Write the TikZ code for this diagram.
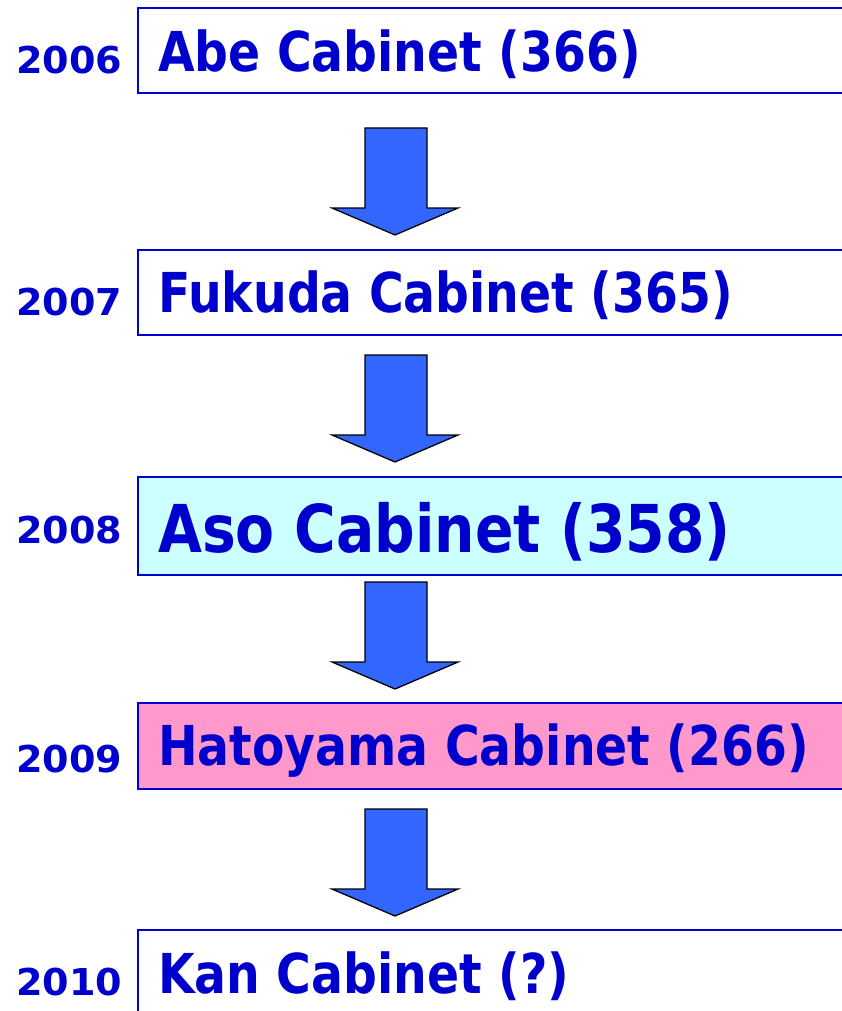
\documentclass[tikz,border=0pt]{standalone}
\usepackage{fontspec}
\setmainfont{DejaVu Sans}
\definecolor{txtblue}{HTML}{0000CC}
\definecolor{arrblue}{HTML}{3366FF}
\definecolor{asofill}{HTML}{CCFFFF}
\definecolor{hatofill}{HTML}{FF99CC}
\begin{document}
\begin{tikzpicture}[x=1pt,y=-1pt,
  cab/.style={draw=txtblue,line width=1.5pt},
  yr/.style={anchor=base west,inner sep=0pt,text=txtblue,font=\fontsize{37}{37}\selectfont\bfseries},
  title/.style={anchor=base west,inner sep=0pt,text=txtblue,font=\fontsize{55}{55}\selectfont\bfseries},
  blk/.style={fill=arrblue,draw=black,line width=1.3pt,line join=miter}]
\useasboundingbox (0,0) rectangle (841,1011);
\path[cab] (138,8) rectangle (860,93);
\path[cab] (138,250) rectangle (860,335);
\path[cab,fill=asofill] (138,477) rectangle (860,575);
\path[cab,fill=hatofill] (138,703) rectangle (860,789);
\path[cab] (138,930) rectangle (860,1030);
\node[yr] (y6) at (16,74) {\scalebox{1.03}[1]{2006}};
\node[yr] (y7) at (16,315) {\scalebox{1.03}[1]{2007}};
\node[yr] (y8) at (16,543) {\scalebox{1.03}[1]{2008}};
\node[yr] (y9) at (16,772) {\scalebox{1.03}[1]{2009}};
\node[yr] (y10) at (16,995) {\scalebox{1.03}[1]{2010}};
\node[title] (abe) at (158,72) {\scalebox{0.86}[1]{Abe Cabinet (366)}};
\node[title] (fuk) at (158,312) {\scalebox{0.86}[1]{Fukuda Cabinet (365)}};
\node[title,font=\fontsize{66}{66}\selectfont\bfseries] (aso) at (158,552) {\scalebox{0.86}[1]{Aso Cabinet (358)}};
\node[title] (hat) at (158,765) {\scalebox{0.86}[1]{Hatoyama Cabinet (266)}};
\node[title] (kan) at (158,993) {\scalebox{0.86}[1]{Kan Cabinet (?)}};
\foreach \t in {128,355,582,809}{
  \draw[blk] (365,\t) -- (427,\t) -- (427,\t+80) -- (458,\t+80) -- (395,\t+107) -- (332,\t+80) -- (365,\t+80) -- cycle;
}
\end{tikzpicture}
\end{document}
